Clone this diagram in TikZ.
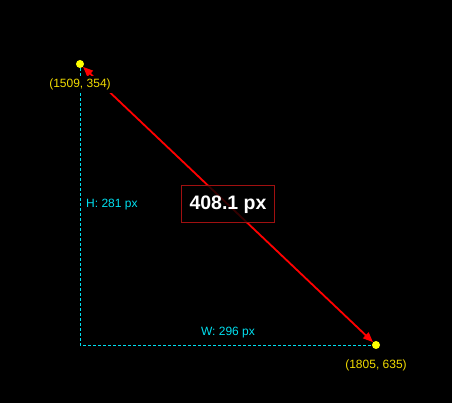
\documentclass[tikz,border=0pt]{standalone}
\usepackage{fontspec}
\setmainfont{Liberation Sans}
\usetikzlibrary{arrows.meta, positioning, calc}
\definecolor{MeasureRed}{HTML}{FF0000}
\definecolor{MarkYellow}{HTML}{FFFF00}
\definecolor{CoordYellow}{HTML}{F2DC00}
\definecolor{GuideCyan}{HTML}{00E0F0}
\definecolor{BoxRed}{HTML}{A01010}

\begin{document}
\begin{tikzpicture}[x=1pt, y=1pt,
    marker/.style={circle, fill=MarkYellow, inner sep=0pt, minimum size=8pt},
    coordlabel/.style={fill=black, text=CoordYellow, inner xsep=2pt, inner ysep=2.5pt, font=\fontsize{12}{14}\selectfont},
    guide/.style={GuideCyan, line width=0.8pt, dash pattern=on 3pt off 2pt},
    guidelabel/.style={text=GuideCyan, inner sep=1pt, font=\fontsize{12}{14}\selectfont},
    measure/.style={{Triangle[length=10pt,width=8pt]}-{Triangle[length=10pt,width=8pt]}, draw=MeasureRed, fill=MeasureRed, line width=1.8pt},
    distbox/.style={
      rectangle, draw=BoxRed, line width=1pt, fill=black, fill opacity=0.8, text opacity=1,
      text=white, minimum width=93pt, minimum height=37pt, font=\fontsize{19.5}{23}\selectfont\bfseries
    }
  ]
    \fill[black] (0,0) rectangle (452,403);
    \useasboundingbox (0,0) rectangle (452,403);

    \node[marker] (p1) at (80,339) {};
    \node[marker] (p2) at (376,58) {};
    \coordinate (corner) at (80,58);
    \coordinate (hmid) at ($(p1)!0.5!(corner)$);
    \coordinate (wmid) at ($(corner)!0.5!(p2)$);

    \draw[guide] (p1) -- (corner) -- (p2);
    \draw[measure] (p1) -- (p2);

    \node[coordlabel, below=8pt of p1] (l1) {(1509, 354)};
    \node[coordlabel, below=8pt of p2] (l2) {(1805, 635)};
    \node[guidelabel, right=5pt of hmid] (hlab) {H: 281 px};
    \node[guidelabel, above=6pt of wmid] (wlab) {W: 296 px};
    \node[distbox] (dist) at ($(p1)!0.5!(p2)$) {408.1 px};
  \end{tikzpicture}
\end{document}
